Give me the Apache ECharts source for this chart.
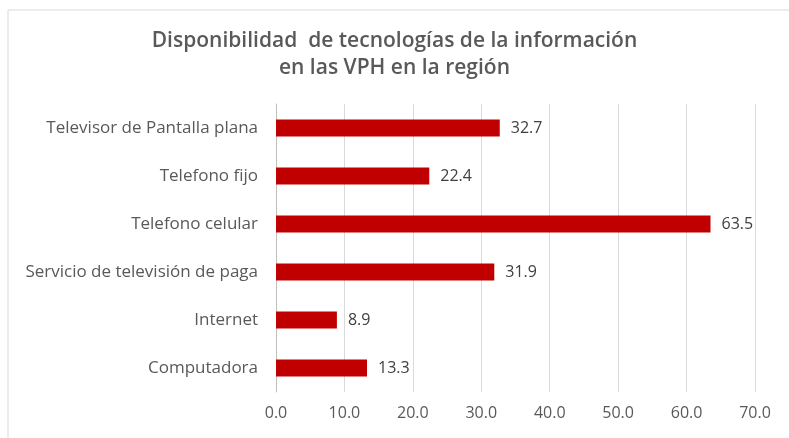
<!DOCTYPE html>
<html>
<head>
<meta charset="utf-8">
<script src="https://cdn.jsdelivr.net/npm/echarts@6/dist/echarts.min.js"></script>
<style>
  html, body { margin: 0; padding: 0; background: #fff; }
  #myChart { width: 789px; height: 438px; }
</style>
</head>
<body>
<div id="myChart"></div>
<script>
  // categorías de abajo hacia arriba (eje Y invertido por echarts)
  var categorias = ['Computadora', 'Internet', 'Servicio de televisión de paga', 'Telefono celular', 'Telefono fijo', 'Televisor de Pantalla plana']
  var valores = [13.3, 8.9, 31.9, 63.5, 22.4, 32.7]
  var ticksX = [0, 10, 20, 30, 40, 50, 60, 70]

  var myChart = echarts.init(document.getElementById('myChart'))
  myChart.setOption({
    animation: false,
    textStyle: { fontFamily: 'Open Sans' },
    graphic: [{
      type: 'rect',
      shape: { x: 8, y: 10, width: 800, height: 440 },
      style: { fill: 'none', stroke: '#d9d9d9', lineWidth: 1 }
    }],
    title: {
      text: 'Disponibilidad  de tecnologías de la información\nen las VPH en la región',
      left: 'center',
      top: 23,
      textStyle: { fontSize: 21, fontWeight: 600, color: '#595959', lineHeight: 27, fontFamily: 'Open Sans' }
    },
    grid: { left: 276, right: 34, top: 104, bottom: 46 },
    xAxis: {
      type: 'value',
      min: ticksX[0],
      max: ticksX[ticksX.length - 1],
      interval: 10,
      axisLine: { show: false },
      axisTick: { show: false },
      axisLabel: { color: '#595959', fontSize: 16, margin: 13, formatter: function (v) { return v.toFixed(1) } },
      splitLine: { lineStyle: { color: '#d9d9d9' } }
    },
    yAxis: {
      type: 'category',
      data: categorias,
      axisLine: { lineStyle: { color: '#bfbfbf' } },
      axisTick: { show: false },
      axisLabel: { color: '#595959', fontSize: 17, margin: 18 }
    },
    series: [{
      type: 'bar',
      data: valores,
      barWidth: 17,
      itemStyle: { color: '#c00000' },
      label: {
        show: true,
        position: 'right',
        distance: 11,
        color: '#404040',
        fontSize: 16,
        formatter: function (p) { return p.value.toFixed(1) }
      }
    }]
  })
</script>
</body>
</html>
